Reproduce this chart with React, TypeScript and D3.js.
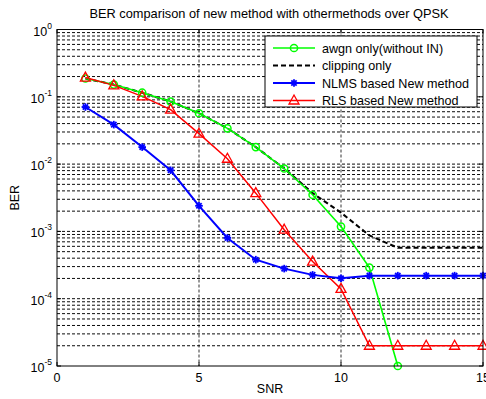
import React from "react";
import * as d3 from "d3";

const snrAll = [1, 2, 3, 4, 5, 6, 7, 8, 9, 10, 11, 12, 13, 14, 15];
const awgnSnr = [1, 2, 3, 4, 5, 6, 7, 8, 9, 10, 11, 12];
const awgnBer = [0.187, 0.152, 0.115, 0.085, 0.057, 0.034, 0.0179, 0.0086, 0.0035, 0.00118, 0.00029, 0.00001];
const clipBer = [0.187, 0.152, 0.115, 0.085, 0.057, 0.034, 0.0179, 0.0086, 0.0037, 0.0019, 0.00087, 0.00057, 0.00057, 0.00057, 0.00057];
const nlmsBer = [0.0705, 0.0386, 0.0179, 0.0081, 0.0024, 0.0008, 0.00038, 0.00028, 0.000226, 0.000201, 0.00022, 0.00022, 0.00022, 0.00022, 0.00022];
const rlsBer = [0.193, 0.148, 0.1016, 0.0645, 0.0283, 0.012, 0.0037, 0.00106, 0.000356, 0.00014, 0.00002, 0.00002, 0.00002, 0.00002, 0.00002];
const xTicks = [0, 5, 10, 15];
const yExps = [0, -1, -2, -3, -4, -5];
const legendLabels = ["awgn only(without IN)", "clipping only", "NLMS based New method", "RLS based New method"];

const L = 57, R = 483, T = 29.5, B = 366;
const FONT = "'Liberation Sans', Arial, sans-serif";

export default function App() {
  const x = d3.scaleLinear().domain([0, 15]).range([L, R]);
  const y = d3.scaleLog().domain([1e-5, 1]).range([B, T]);
  const line = d3.line<[number, number]>().x(d => x(d[0])).y(d => y(d[1]));

  const minorY: number[] = [];
  for (let e = -5; e < 0; e++) for (let m = 1; m <= 9; m++) if (m > 1 || e > -5) minorY.push(m * Math.pow(10, e));

  const awgn = awgnSnr.map((s, i) => [s, awgnBer[i]] as [number, number]);
  const clip = snrAll.map((s, i) => [s, clipBer[i]] as [number, number]);
  const nlms = snrAll.map((s, i) => [s, nlmsBer[i]] as [number, number]);
  const rls = snrAll.map((s, i) => [s, rlsBer[i]] as [number, number]);

  const star = (cx: number, cy: number, k: string, color: string) => {
    const s = 3.8;
    return (
      <g key={k} stroke={color} strokeWidth={1.8}>
        <line x1={cx - s} y1={cy} x2={cx + s} y2={cy} />
        <line x1={cx} y1={cy - s} x2={cx} y2={cy + s} />
        <line x1={cx - s * 0.7} y1={cy - s * 0.7} x2={cx + s * 0.7} y2={cy + s * 0.7} />
        <line x1={cx - s * 0.7} y1={cy + s * 0.7} x2={cx + s * 0.7} y2={cy - s * 0.7} />
      </g>
    );
  };
  const tri = (cx: number, cy: number, k: string) => (
    <path key={k} d={`M${cx},${cy - 5.5}L${cx + 5},${cy + 3.5}L${cx - 5},${cy + 3.5}Z`} fill="none" stroke="#ff0000" strokeWidth={1.3} />
  );
  const circ = (cx: number, cy: number, k: string) => (
    <circle key={k} cx={cx} cy={cy} r={3.6} fill="none" stroke="#00ff00" strokeWidth={1.5} />
  );

  const legX = 265, legY = 36, legW = 212, legH = 71;
  const rowY = (i: number) => legY + 12 + i * 17.5;

  return (
    <svg width={486} height={399} style={{ position: "absolute", left: 0, top: 0, background: "#fff" }} fontFamily={FONT}>
      <rect x={0} y={0} width={486} height={399} fill="#fff" />
      <rect x={L} y={T} width={R - L} height={B - T} fill="#fff" />
      {/* grid */}
      {minorY.map((v, i) => (
        <line key={"gy" + i} x1={L} x2={R} y1={y(v)} y2={y(v)} stroke="#000" strokeWidth={1} strokeDasharray="3,2" opacity={0.95} />
      ))}
      {xTicks.slice(1, -1).map(t => (
        <line key={"gx" + t} x1={x(t)} x2={x(t)} y1={T} y2={B} stroke="#000" strokeWidth={1} strokeDasharray="3,2" opacity={0.8} />
      ))}
      {/* series */}
      <path d={line(clip) || ""} fill="none" stroke="#000" strokeWidth={2} strokeDasharray="5,3" />
      <path d={line(awgn) || ""} fill="none" stroke="#00ff00" strokeWidth={1.6} />
      <path d={line(rls) || ""} fill="none" stroke="#ff0000" strokeWidth={1.5} />
      <path d={line(nlms) || ""} fill="none" stroke="#0000ff" strokeWidth={2} />
      {awgn.map((d, i) => circ(x(d[0]), y(d[1]), "c" + i))}
      {rls.map((d, i) => tri(x(d[0]), y(d[1]), "t" + i))}
      {nlms.map((d, i) => star(x(d[0]), y(d[1]), "s" + i, "#0000ff"))}
      {/* axes box */}
      <rect x={L} y={T} width={R - L} height={B - T} fill="none" stroke="#000" strokeWidth={1} />
      {/* ticks */}
      {xTicks.map(t => (
        <g key={"xt" + t}>
          <line x1={x(t)} x2={x(t)} y1={B} y2={B - 4} stroke="#000" />
          <line x1={x(t)} x2={x(t)} y1={T} y2={T + 4} stroke="#000" />
          <text x={x(t)} y={B + 16} fontSize={12.5} textAnchor="middle">{t}</text>
        </g>
      ))}
      {yExps.map(e => (
        <g key={"yt" + e}>
          <line x1={L} x2={L + 4} y1={y(Math.pow(10, e))} y2={y(Math.pow(10, e))} stroke="#000" />
          <line x1={R} x2={R - 4} y1={y(Math.pow(10, e))} y2={y(Math.pow(10, e))} stroke="#000" />
          <text x={L - 5} y={y(Math.pow(10, e)) + 6} fontSize={12.5} textAnchor="end">
            10<tspan dy={-7} fontSize={8.5}>{e}</tspan>
          </text>
        </g>
      ))}
      {/* labels */}
      <text x={269} y={18} fontSize={12.8} textAnchor="middle">BER comparison of new method with othermethods over QPSK</text>
      <text x={270} y={393} fontSize={12.5} textAnchor="middle">SNR</text>
      <text transform={`translate(19,${(T + B) / 2}) rotate(-90)`} fontSize={12.5} textAnchor="middle">BER</text>
      {/* legend */}
      <rect x={legX} y={legY} width={legW} height={legH} fill="#fff" stroke="#000" strokeWidth={1} />
      <line x1={273} x2={315} y1={rowY(0)} y2={rowY(0)} stroke="#00ff00" strokeWidth={1.6} />
      {circ(294, rowY(0), "lc")}
      <line x1={273} x2={315} y1={rowY(1)} y2={rowY(1)} stroke="#000" strokeWidth={2} strokeDasharray="5,3" />
      <line x1={273} x2={315} y1={rowY(2)} y2={rowY(2)} stroke="#0000ff" strokeWidth={2} />
      {star(294, rowY(2), "ls", "#0000ff")}
      <line x1={273} x2={315} y1={rowY(3)} y2={rowY(3)} stroke="#ff0000" strokeWidth={1.5} />
      {tri(294, rowY(3), "lt")}
      {legendLabels.map((l, i) => (
        <text key={"lg" + i} x={322} y={rowY(i) + 4.5} fontSize={12.6}>{l}</text>
      ))}
    </svg>
  );
}
